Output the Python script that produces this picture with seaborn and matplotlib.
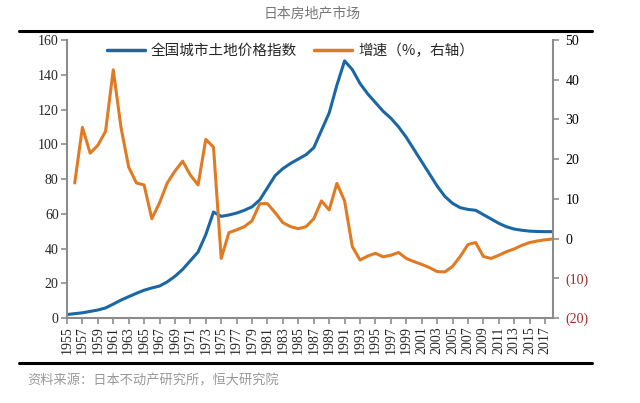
import numpy as np
import pandas as pd
import matplotlib
matplotlib.use("Agg")
import matplotlib.pyplot as plt
from matplotlib.lines import Line2D
import seaborn as sns

years = list(range(1955, 2019))

# 全国城市土地价格指数 (left axis)
land_index = [2, 2.5, 3, 3.8, 4.6, 5.8, 8, 10.3, 12.3, 14.2,
              16, 17.3, 18.4, 20.8, 24, 28, 33, 38, 48, 61,
              58.5, 59.3, 60.4, 62, 64, 68, 75, 82, 86, 89,
              91.5, 94, 98, 108, 118, 134, 148, 143, 135, 129,
              124, 119, 115, 110, 104, 97, 90, 83, 76, 70,
              66, 63.5, 62.5, 62, 59.5, 57, 54.5, 52.5, 51.2, 50.5,
              50, 49.8, 49.7, 49.7]

# 增速 (%, right axis), starts 1956
growth_years = list(range(1956, 2019))
growth = [14, 28, 21.5, 23.5, 27, 42.5, 28, 18, 14,
          13.5, 5, 9, 14, 17, 19.5, 16, 13.5, 25, 23,
          -5, 1.5, 2.2, 3, 4.5, 8.8, 8.8, 6.5, 4, 3,
          2.5, 3, 5, 9.5, 7.2, 13.9, 9.5, -2, -5.4, -4.4,
          -3.7, -4.6, -4.2, -3.5, -5, -5.8, -6.5, -7.3, -8.3, -8.4,
          -7, -4.5, -1.5, -1, -4.5, -5, -4.2, -3.3, -2.6, -1.7,
          -1, -0.6, -0.3, -0.1]

left_ticks = [0, 20, 40, 60, 80, 100, 120, 140, 160]
right_ticks = [-20, -10, 0, 10, 20, 30, 40, 50]
right_labels = ["(20)", "(10)", "0", "10", "20", "30", "40", "50"]
year_ticks = list(range(1955, 2018, 2))

df1 = pd.DataFrame({"year": years, "value": land_index})
df2 = pd.DataFrame({"year": growth_years, "value": growth})

sns.set_style("white")
plt.rcParams["font.family"] = ["Noto Sans CJK SC", "DejaVu Sans"]

blue = "#1a67a3"
orange = "#e07b24"
gray = "#8c8c8c"
serif = ["Liberation Serif", "DejaVu Serif"]

fig = plt.figure(figsize=(6.4, 4.03), dpi=100)
ax = fig.add_axes([0.1047, 0.2109, 0.759, 0.6898])
ax2 = ax.twinx()

sns.lineplot(data=df1, x="year", y="value", ax=ax, color=blue, linewidth=2.2,
             label="全国城市土地价格指数", legend=False)
sns.lineplot(data=df2, x="year", y="value", ax=ax2, color=orange, linewidth=2.2,
             label="增速（%，右轴）", legend=False)

ax.set_xlim(1955, 2018)
ax.set_ylim(0, 160)
ax2.set_ylim(-20, 50)
ax.set_xlabel("")
ax.set_ylabel("")
ax2.set_ylabel("")

ax.set_xticks(year_ticks)
ax.set_xticklabels([str(y) for y in year_ticks], rotation=90, fontsize=10,
                   family=serif)
ax.set_yticks(left_ticks)
ax.set_yticklabels([str(v) for v in left_ticks], fontsize=10, family=serif)
ax2.set_yticks(right_ticks)
ax2.set_yticklabels(right_labels, fontsize=10, family=serif)
for lbl, v in zip(ax2.get_yticklabels(), right_ticks):
    lbl.set_color("#9b2a2a" if v < 0 else "black")

for a in (ax, ax2):
    a.spines["top"].set_visible(False)
    for s in ("left", "right", "bottom"):
        a.spines[s].set_color(gray)
        a.spines[s].set_linewidth(1.5)
ax.spines["right"].set_visible(False)
ax2.spines["left"].set_visible(False)
ax2.spines["bottom"].set_visible(False)

ax.tick_params(axis="both", direction="out", length=4, width=1.2, color=gray,
               left=True, bottom=True, pad=2)
ax2.tick_params(axis="y", direction="out", length=4, width=1.2, color=gray,
                right=True, pad=5)

handles = [Line2D([], [], color=blue, linewidth=2.5),
           Line2D([], [], color=orange, linewidth=2.5)]
ax.legend(handles, ["全国城市土地价格指数", "增速（%，右轴）"], loc="upper center",
          bbox_to_anchor=(0.46, 1.035), ncol=2, frameon=False, fontsize=10.5,
          handlelength=2.6, columnspacing=1.2, handletextpad=0.4)

fig.text(0.487, 0.966, "日本房地产市场", ha="center", va="center",
         fontsize=10, color="#777777")
fig.add_artist(Line2D([0.03, 0.925], [0.923, 0.923], color="black",
                      linewidth=2.2, transform=fig.transFigure))
fig.add_artist(Line2D([0.03, 0.925], [0.099, 0.099], color="black",
                      linewidth=2.2, transform=fig.transFigure))
fig.text(0.042, 0.055, "资料来源：日本不动产研究所，恒大研究院", ha="left",
         va="center", fontsize=9.5, color="#999999")

fig.savefig("out.png", dpi=100)
